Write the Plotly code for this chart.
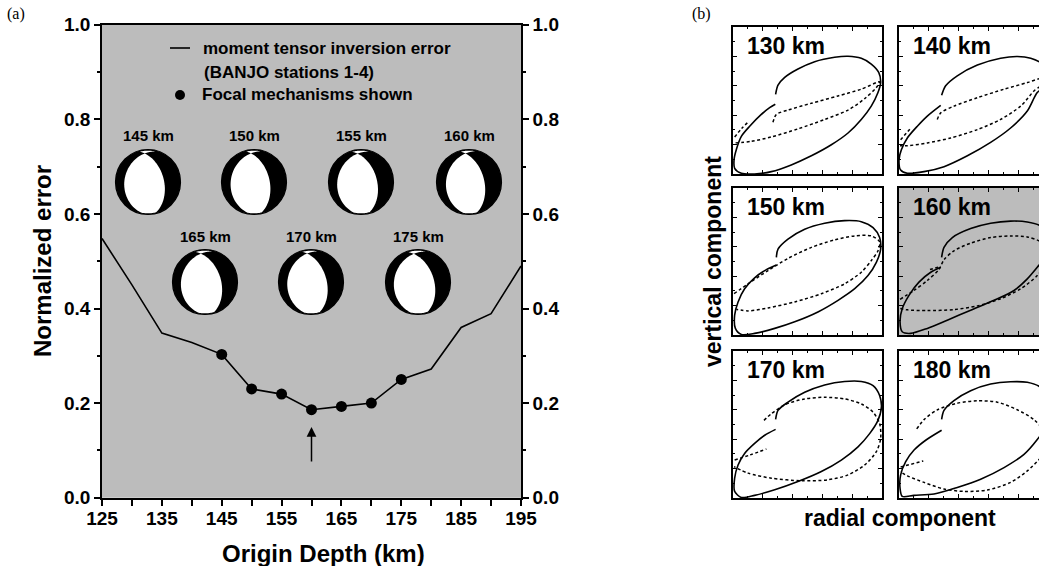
import numpy as np
import plotly.graph_objects as go

# ---------------- data : panel (a) ----------------
depth_km = [125, 130, 135, 140, 145, 150, 155, 160, 165, 170, 175, 180, 185, 190, 195]
norm_error = [0.548, 0.45, 0.348, 0.328, 0.303, 0.230, 0.219, 0.186, 0.193, 0.200,
              0.250, 0.272, 0.360, 0.389, 0.490]
mech_depth_km = [145, 150, 155, 160, 165, 170, 175]
mech_error = [0.303, 0.230, 0.219, 0.186, 0.193, 0.200, 0.250]
mech_labels = ["145 km", "150 km", "155 km", "160 km", "165 km", "170 km", "175 km"]
# nodal planes (strike, dip) of each focal mechanism
mech_plane_a = [(345, 48), (346, 49), (344, 48), (345, 50), (343, 48), (344, 49), (342, 48)]
mech_plane_b = [(193, 26), (192, 27), (194, 26), (191, 28), (193, 25), (192, 26), (194, 25)]
best_depth_km = 160
x_tick_vals = list(range(125, 200, 5))
x_tick_text = ["125", "", "135", "", "145", "", "155", "", "165", "", "175", "", "185", "", "195"]
y_tick_vals = [0.0, 0.2, 0.4, 0.6, 0.8, 1.0]
y_tick_text = ["0.0", "0.2", "0.4", "0.6", "0.8", "1.0"]

# ---------------- data : panel (b) particle motions (normalised radial, vertical) ----------------
pm_labels = ["130 km", "140 km", "150 km", "160 km", "170 km", "180 km"]

solid_130 = [(0.286, 0.542), (0.302, 0.604), (0.347, 0.657), (0.436, 0.714), (0.548, 0.764),
             (0.682, 0.794), (0.772, 0.801), (0.861, 0.787), (0.928, 0.748), (0.978, 0.691),
             (0.991, 0.622), (0.973, 0.554), (0.928, 0.462), (0.861, 0.371), (0.772, 0.279),
             (0.660, 0.199), (0.526, 0.124), (0.391, 0.062), (0.257, 0.016), (0.145, 0.0),
             (0.056, 0.005), (0.011, 0.039), (0.007, 0.096), (0.022, 0.165), (0.056, 0.256),
             (0.112, 0.325), (0.190, 0.405), (0.246, 0.451), (0.284, 0.474)]
dash_130 = [(0.268, 0.352), (0.291, 0.405), (0.369, 0.435), (0.526, 0.481), (0.705, 0.531),
            (0.861, 0.577), (0.984, 0.627), (0.962, 0.588), (0.884, 0.513), (0.772, 0.435),
            (0.615, 0.371), (0.436, 0.307), (0.257, 0.252), (0.123, 0.222), (0.007, 0.211)]
short_130 = [(0.011, 0.252), (0.056, 0.307), (0.096, 0.348)]

solid_140 = [(0.286, 0.535), (0.313, 0.600), (0.391, 0.668), (0.526, 0.741), (0.682, 0.787),
             (0.794, 0.799), (0.884, 0.787), (0.962, 0.748), (1.005, 0.680), (0.996, 0.611),
             (0.928, 0.554), (0.861, 0.428), (0.749, 0.313), (0.615, 0.215), (0.459, 0.124),
             (0.302, 0.050), (0.168, 0.016), (0.056, 0.005), (0.011, 0.027), (0.0, 0.096),
             (0.016, 0.165), (0.056, 0.245), (0.123, 0.325), (0.190, 0.394), (0.280, 0.467)]
dash_140 = [(0.257, 0.371), (0.280, 0.416), (0.369, 0.462), (0.526, 0.519), (0.705, 0.577),
            (0.861, 0.622), (0.951, 0.650), (1.0, 0.645), (0.951, 0.600), (0.906, 0.565),
            (0.817, 0.462), (0.682, 0.371), (0.526, 0.302), (0.347, 0.245), (0.190, 0.211),
            (0.056, 0.192), (0.007, 0.192)]
short_140 = [(0.011, 0.233), (0.074, 0.307)]

solid_150 = [(0.291, 0.528), (0.302, 0.584), (0.369, 0.652), (0.481, 0.719), (0.615, 0.760),
             (0.749, 0.778), (0.861, 0.771), (0.940, 0.730), (0.984, 0.663), (0.991, 0.584),
             (0.962, 0.494), (0.906, 0.404), (0.817, 0.315), (0.705, 0.236), (0.570, 0.157),
             (0.414, 0.090), (0.280, 0.045), (0.145, 0.011), (0.056, 0.004), (0.016, 0.045),
             (0.011, 0.135), (0.034, 0.225), (0.078, 0.315), (0.145, 0.389), (0.224, 0.445),
             (0.291, 0.476)]
dash_150 = [(0.007, 0.281), (0.101, 0.348), (0.235, 0.438), (0.369, 0.521), (0.526, 0.596),
            (0.682, 0.647), (0.817, 0.674), (0.928, 0.674), (0.984, 0.634), (0.973, 0.573),
            (0.928, 0.506), (0.861, 0.427), (0.749, 0.348), (0.593, 0.281), (0.414, 0.225),
            (0.235, 0.184), (0.101, 0.164), (0.022, 0.175)]
short_150 = []

solid_160 = [(0.286, 0.528), (0.302, 0.596), (0.358, 0.663), (0.481, 0.724), (0.615, 0.760),
             (0.749, 0.775), (0.861, 0.769), (0.951, 0.742), (1.005, 0.674), (1.005, 0.584),
             (0.973, 0.517), (0.928, 0.461), (0.861, 0.382), (0.772, 0.303), (0.638, 0.236),
             (0.481, 0.169), (0.324, 0.101), (0.190, 0.045), (0.078, 0.011), (0.022, 0.022),
             (0.007, 0.090), (0.022, 0.180), (0.067, 0.270), (0.134, 0.360), (0.213, 0.427),
             (0.280, 0.461)]
dash_160 = [(0.007, 0.243), (0.101, 0.303), (0.190, 0.371), (0.268, 0.445), (0.302, 0.512),
            (0.369, 0.573), (0.481, 0.625), (0.615, 0.663), (0.749, 0.674), (0.861, 0.667),
            (0.951, 0.634), (1.0, 0.584), (0.990, 0.494), (0.928, 0.404), (0.817, 0.315),
            (0.682, 0.247), (0.526, 0.198), (0.369, 0.173), (0.190, 0.166), (0.056, 0.171),
            (0.007, 0.180)]
short_160 = [(0.208, 0.445), (0.280, 0.467)]

solid_170 = [(0.286, 0.535), (0.302, 0.596), (0.369, 0.652), (0.481, 0.719), (0.615, 0.769),
             (0.749, 0.793), (0.861, 0.793), (0.940, 0.764), (0.984, 0.697), (0.996, 0.618),
             (0.973, 0.528), (0.917, 0.438), (0.839, 0.348), (0.727, 0.258), (0.593, 0.180),
             (0.436, 0.112), (0.280, 0.056), (0.145, 0.018), (0.056, 0.004), (0.011, 0.045),
             (0.011, 0.135), (0.034, 0.225), (0.078, 0.303), (0.145, 0.371), (0.213, 0.427),
             (0.286, 0.467)]
dash_170 = [(0.208, 0.528), (0.257, 0.573), (0.347, 0.634), (0.481, 0.674), (0.615, 0.685),
            (0.749, 0.674), (0.861, 0.640), (0.940, 0.584), (0.984, 0.506), (0.991, 0.404),
            (0.962, 0.315), (0.884, 0.225), (0.772, 0.157), (0.638, 0.124), (0.459, 0.117),
            (0.257, 0.135), (0.101, 0.169), (0.007, 0.213)]
short_170 = [(0.011, 0.258), (0.112, 0.292), (0.224, 0.333)]

solid_180 = [(0.286, 0.535), (0.302, 0.596), (0.369, 0.663), (0.481, 0.730), (0.615, 0.775),
             (0.749, 0.791), (0.861, 0.787), (0.951, 0.753), (1.005, 0.685), (1.01, 0.584),
             (0.984, 0.483), (0.928, 0.398), (0.839, 0.297), (0.705, 0.207), (0.548, 0.128),
             (0.391, 0.072), (0.235, 0.027), (0.101, 0.018), (0.022, 0.011), (0.007, 0.067),
             (0.011, 0.157), (0.045, 0.247), (0.101, 0.326), (0.179, 0.393), (0.286, 0.461)]
dash_180 = [(0.119, 0.470), (0.168, 0.533), (0.257, 0.600), (0.391, 0.645), (0.526, 0.661),
            (0.660, 0.652), (0.794, 0.600), (0.906, 0.533), (0.973, 0.454), (1.0, 0.342),
            (0.951, 0.274), (0.861, 0.184), (0.749, 0.106), (0.593, 0.054), (0.436, 0.045),
            (0.302, 0.061), (0.168, 0.106), (0.056, 0.151), (0.007, 0.180)]
short_180 = [(0.011, 0.211), (0.163, 0.252)]

pm_solid = [solid_130, solid_140, solid_150, solid_160, solid_170, solid_180]
pm_dash = [dash_130, dash_140, dash_150, dash_160, dash_170, dash_180]
pm_short = [short_130, short_140, short_150, short_160, short_170, short_180]

# ---------------- layout helpers (pixel based) ----------------
W, H = 1039, 566
def px(p):
    return p / W
def py(p):
    return 1 - p / H

FONT = "Liberation Sans"
GRAY = "#bcbcbc"

A_L, A_R, A_T, A_B = 102, 521, 24.7, 497.7
px_per_x = (A_R - A_L) / (195 - 125)
px_per_y = (A_B - A_T) / 1.0

def dx(pix):  # data x from pixel
    return 125 + (pix - A_L) / px_per_x
def dy(pix):
    return (A_B - pix) / px_per_y

fig = go.Figure()

# ---- panel (a) traces
fig.add_trace(go.Scatter(x=depth_km, y=norm_error, mode="lines",
                         line=dict(color="black", width=1.6), showlegend=False,
                         xaxis="x", yaxis="y", hoverinfo="skip"))
fig.add_trace(go.Scatter(x=mech_depth_km, y=mech_error, mode="markers",
                         marker=dict(color="black", size=11), showlegend=False,
                         xaxis="x", yaxis="y"))
fig.add_trace(go.Scatter(x=[125], y=[0], mode="markers", marker=dict(opacity=0),
                         showlegend=False, xaxis="x", yaxis="y2", hoverinfo="skip"))

shapes = []
annotations = []

# gray background panel (a)
shapes.append(dict(type="rect", xref="x domain", yref="y domain", x0=0, x1=1, y0=0, y1=1,
                   fillcolor=GRAY, line=dict(width=0), layer="below"))

# ---- beach balls
def project(v):
    v = v / np.linalg.norm(v, axis=1)[:, None]
    p = np.arcsin(np.clip(v[:, 2], -1, 1))
    az = np.arctan2(v[:, 0], v[:, 1])
    r = np.sqrt(2) * np.sin((np.pi / 2 - p) / 2)
    return r * np.sin(az), r * np.cos(az)

def plane_vectors(strike, dip):
    phi, dl = np.radians(strike), np.radians(dip)
    s = np.array([np.sin(phi), np.cos(phi), 0.0])
    d = np.array([np.cos(dl) * np.cos(phi), -np.cos(dl) * np.sin(phi), np.sin(dl)])
    return s, d

def plane_pts(s, d, t0, t1, n=40):
    t = np.linspace(t0, t1, n)
    v = np.outer(np.cos(t), s) + np.outer(np.sin(t), d)
    return project(v)

def arc_pts(a0, a1, n=20):
    a0 = a0 % 360
    diff = ((a1 - a0 + 180) % 360) - 180
    a = np.radians(np.linspace(a0, a0 + diff, n))
    return np.sin(a), np.cos(a)

def to_path(xs, ys, cx, cy, R):
    pts = ["%.4f,%.5f" % (cx + x * R / px_per_x, cy + y * R / px_per_y) for x, y in zip(xs, ys)]
    return "M " + " L ".join(pts) + " Z"

ball_px = [(148, 182), (254, 182), (361, 182), (469, 182), (205, 282), (311, 282), (418, 282)]
label_py = [136, 136, 136, 136, 236, 236, 236]
R_ball = 32.5
for i in range(len(mech_labels)):
    cx, cy = dx(ball_px[i][0]), dy(ball_px[i][1])
    (sa, da), (sb, db) = plane_vectors(*mech_plane_a[i]), plane_vectors(*mech_plane_b[i])
    na, nb = np.cross(sa, da), np.cross(sb, db)
    I = np.cross(na, nb)
    if I[2] < 0:
        I = -I
    ta = np.arctan2(I @ da, I @ sa)
    tb = np.arctan2(I @ db, I @ sb)
    stA, stB = mech_plane_a[i][0], mech_plane_b[i][0]
    shapes.append(dict(type="circle", xref="x", yref="y",
                       x0=cx - R_ball / px_per_x, x1=cx + R_ball / px_per_x,
                       y0=cy - R_ball / px_per_y, y1=cy + R_ball / px_per_y,
                       fillcolor="black", line=dict(color="black", width=1.2), layer="above"))
    x1, y1 = plane_pts(sa, da, 0, ta)
    x2, y2 = plane_pts(sb, db, tb, np.pi)
    x3, y3 = arc_pts(stB + 180, stA)
    xs = np.concatenate([x1, x2, x3]); ys = np.concatenate([y1, y2, y3])
    shapes.append(dict(type="path", xref="x", yref="y", path=to_path(xs * 0.965, ys * 0.965, cx, cy, R_ball),
                       fillcolor="white", line=dict(width=0), layer="above"))
    x1, y1 = plane_pts(sa, da, ta, np.pi)
    x2, y2 = arc_pts(stA + 180, stB)
    x3, y3 = plane_pts(sb, db, 0, tb)
    xs = np.concatenate([x1, x2, x3]); ys = np.concatenate([y1, y2, y3])
    shapes.append(dict(type="path", xref="x", yref="y", path=to_path(xs * 0.965, ys * 0.965, cx, cy, R_ball),
                       fillcolor="white", line=dict(width=0), layer="above"))
    annotations.append(dict(x=cx, y=dy(label_py[i]), xref="x", yref="y", text="<b>%s</b>" % mech_labels[i],
                            showarrow=False, font=dict(family=FONT, size=15, color="black"),
                            xanchor="center", yanchor="middle"))

# arrow at best depth
annotations.append(dict(x=best_depth_km, y=dy(427), ax=best_depth_km, ay=dy(463), xref="x", yref="y",
                        axref="x", ayref="y", text="", showarrow=True, arrowhead=2, arrowsize=1.3,
                        arrowwidth=1.5, arrowcolor="black"))

# legend (manual)
shapes.append(dict(type="line", xref="paper", yref="paper", x0=px(170), x1=px(190), y0=py(48), y1=py(48),
                   line=dict(color="black", width=1.6)))
shapes.append(dict(type="circle", xref="paper", yref="paper", x0=px(175), x1=px(185), y0=py(100), y1=py(90),
                   fillcolor="black", line=dict(color="black", width=0)))
for txt, xx, yy in [("moment tensor inversion error", 201, 48), ("(BANJO stations 1-4)", 202, 72),
                    ("Focal mechanisms shown", 200, 95)]:
    annotations.append(dict(x=px(xx), y=py(yy), xref="paper", yref="paper", text="<b>%s</b>" % txt,
                            showarrow=False, xanchor="left", yanchor="middle",
                            font=dict(family=FONT, size=17, color="black")))

# axis titles and panel letters
annotations += [
    dict(x=px(323), y=py(553), xref="paper", yref="paper", text="<b>Origin Depth (km)</b>", showarrow=False,
         font=dict(family=FONT, size=24, color="black"), xanchor="center", yanchor="middle"),
    dict(x=px(43), y=py(261), xref="paper", yref="paper", text="<b>Normalized error</b>", showarrow=False,
         textangle=-90, font=dict(family=FONT, size=24, color="black"), xanchor="center", yanchor="middle"),
    dict(x=px(900), y=py(518), xref="paper", yref="paper", text="<b>radial component</b>", showarrow=False,
         font=dict(family=FONT, size=23, color="black"), xanchor="center", yanchor="middle"),
    dict(x=px(713), y=py(262), xref="paper", yref="paper", text="<b>vertical component</b>", showarrow=False,
         textangle=-90, font=dict(family=FONT, size=23, color="black"), xanchor="center", yanchor="middle"),
    dict(x=px(5), y=py(14), xref="paper", yref="paper", text="(a)", showarrow=False,
         font=dict(family="Liberation Serif", size=16, color="black"), xanchor="left", yanchor="middle"),
    dict(x=px(690), y=py(14), xref="paper", yref="paper", text="(b)", showarrow=False,
         font=dict(family="Liberation Serif", size=16, color="black"), xanchor="left", yanchor="middle"),
]

tickfont = dict(family=FONT, size=19, color="black", weight="bold")
layout = dict(
    width=W, height=H, margin=dict(l=0, r=0, t=0, b=0, pad=0, autoexpand=False),
    paper_bgcolor="white", plot_bgcolor="rgba(0,0,0,0)", showlegend=False,
    xaxis=dict(domain=[px(A_L), px(A_R)], range=[125, 195], anchor="y", tickvals=x_tick_vals,
               ticktext=x_tick_text, ticks="outside", ticklen=7, tickwidth=1.5, tickcolor="black",
               showline=True, linecolor="black", linewidth=1.5, mirror=True, showgrid=False,
               zeroline=False, tickfont=tickfont, automargin=False, ticklabelstandoff=-4),
    yaxis=dict(domain=[py(A_B), py(A_T)], range=[0, 1], anchor="x", tickvals=y_tick_vals,
               ticktext=y_tick_text, ticks="outside", ticklen=6, tickwidth=1.5, tickcolor="black",
               minor=dict(dtick=0.1, ticks="outside", ticklen=3, tickcolor="black", showgrid=False),
               showline=True, linecolor="black", linewidth=1.5, showgrid=False, zeroline=False,
               tickfont=tickfont, automargin=False),
    yaxis2=dict(range=[0, 1], anchor="x", overlaying="y", side="right", tickvals=y_tick_vals,
                ticktext=y_tick_text, ticks="outside", ticklen=6, tickwidth=1.5, tickcolor="black",
                minor=dict(dtick=0.1, ticks="outside", ticklen=3, tickcolor="black", showgrid=False),
                showline=True, linecolor="black", linewidth=1.5, showgrid=False, zeroline=False,
                tickfont=tickfont, automargin=False),
)

# ---- panel (b) subplots
cols = [(733, 882), (899, 1039)]
rows = [(27, 174), (188, 335), (351, 498)]
full_w = 149.0
for k in range(6):
    r, c = k // 2, k % 2
    ax = k + 3
    xa, ya = "xaxis%d" % ax, "yaxis%d" % ax
    xl, xr = cols[c]
    yt, yb = rows[r]
    xmax = (xr - xl) / full_w if c == 1 else 1.0
    common = dict(showticklabels=False, ticks="inside", ticklen=4, tickwidth=1, tickcolor="black",
                  tick0=0, dtick=0.2, minor=dict(dtick=0.1, ticks="inside", ticklen=2, tickcolor="black"),
                  showline=True, linecolor="black", linewidth=1.5, showgrid=False, zeroline=False,
                  fixedrange=True, automargin=False)
    layout[xa] = dict(domain=[px(xl), px(xr)], range=[0, xmax], anchor="y%d" % ax, mirror="allticks", **common)
    layout[ya] = dict(domain=[py(yb), py(yt)], range=[0, 1], anchor="x%d" % ax,
                      mirror="allticks" if c == 0 else False, **common)
    if k == 3:
        shapes.append(dict(type="rect", xref="x%d domain" % ax, yref="y%d domain" % ax, x0=0, x1=1, y0=0, y1=1,
                           fillcolor=GRAY, line=dict(width=0), layer="below"))
    sx, sy = zip(*pm_solid[k])
    fig.add_trace(go.Scatter(x=sx, y=sy, mode="lines", line=dict(color="black", width=1.6, shape="spline",
                                                                  smoothing=0.8),
                             xaxis="x%d" % ax, yaxis="y%d" % ax, showlegend=False, hoverinfo="skip"))
    dxs, dys = zip(*pm_dash[k])
    fig.add_trace(go.Scatter(x=dxs, y=dys, mode="lines", line=dict(color="black", width=1.5, shape="spline",
                                                                    smoothing=0.8, dash="3px,2.5px"),
                             xaxis="x%d" % ax, yaxis="y%d" % ax, showlegend=False, hoverinfo="skip"))
    if pm_short[k]:
        hx, hy = zip(*pm_short[k])
        fig.add_trace(go.Scatter(x=hx, y=hy, mode="lines", line=dict(color="black", width=1.5, shape="spline",
                                                                      dash="3px,2.5px"),
                                 xaxis="x%d" % ax, yaxis="y%d" % ax, showlegend=False, hoverinfo="skip"))
    annotations.append(dict(x=px(xl + 12), y=py(yt + 19), xref="paper", yref="paper",
                            text="<b>%s</b>" % pm_labels[k], showarrow=False, xanchor="left",
                            yanchor="middle", font=dict(family=FONT, size=23, color="black")))

layout["shapes"] = shapes
layout["annotations"] = annotations
fig.update_layout(**layout)
fig.write_html("out.html")
